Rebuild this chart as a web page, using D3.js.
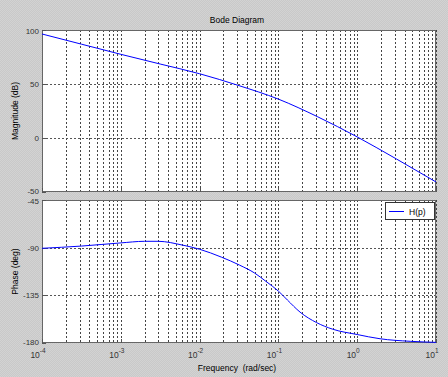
<!DOCTYPE html>
<html>
<head>
<meta charset="utf-8">
<script src="https://cdn.jsdelivr.net/npm/d3@7"></script>
<style>
  body { margin: 0; background: #cccccc; }
  svg { display: block; }
  text { font-family: "Liberation Sans", Arial, sans-serif; }
</style>
</head>
<body>
<div id="chart"></div>
<script>
// Magnitude data (every half decade)
var magFreq = [1e-4, 3.16e-4, 1e-3, 3.16e-3, 1e-2, 3.16e-2, 1e-1, 3.16e-1, 1, 3.16, 10];
var magDb = [96.3, 86.9, 77.5, 68.5, 59.5, 48.5, 36, 19.6, 1, -19.5, -40.7];

// Phase data
var phFreq = [1e-4, 3.16e-4, 1e-3, 2e-3, 3e-3, 6e-3, 1e-2, 1.9e-2, 3.2e-2, 5e-2, 7e-2, 1e-1, 1.3e-1, 1.88e-1, 3.06e-1, 4.9e-1, 1, 1.95, 4.7, 10];
var phDeg = [-90.6, -88.5, -85.5, -84, -84, -87.5, -91.5, -99, -106.4, -114, -122, -131, -139.4, -150.8, -160.8, -167, -172, -176, -178.4, -179.4];

// Tick values
var decades = [-4, -3, -2, -1, 0, 1];
var magTicks = [-50, 0, 50, 100];
var phTicks = [-180, -135, -90, -45];

var W = 448, H = 377;
var left = 42, right = 436;

var svg = d3.select("#chart").append("svg")
    .attr("width", W)
    .attr("height", H);

// dithered grey background
var defs = svg.append("defs");
var pat = defs.append("pattern")
    .attr("id", "dither")
    .attr("width", 2).attr("height", 2)
    .attr("patternUnits", "userSpaceOnUse");
pat.append("rect").attr("width", 2).attr("height", 2).attr("fill", "#c9c9c9");
pat.append("rect").attr("width", 1).attr("height", 1).attr("fill", "#d3d3d3");
pat.append("rect").attr("x", 1).attr("y", 1).attr("width", 1).attr("height", 1).attr("fill", "#d3d3d3");
svg.append("rect").attr("width", W).attr("height", H).attr("fill", "url(#dither)");

var x = d3.scaleLog().domain([1e-4, 10]).range([left, right]);

// minor grid values
var gridX = [];
decades.forEach(function (e) {
    for (var k = 1; k < 10; k++) {
        var v = k * Math.pow(10, e);
        if (v <= 10) gridX.push(v);
    }
});

function panel(top, bottom, domain, ticks, yLabel) {
    var y = d3.scaleLinear().domain(domain).range([bottom, top]);
    var g = svg.append("g");

    g.append("rect")
        .attr("x", left).attr("y", top)
        .attr("width", right - left).attr("height", bottom - top)
        .attr("fill", "white");

    // vertical grid
    g.selectAll(".vg").data(gridX).enter().append("line")
        .attr("x1", d => Math.round(x(d)) + 0.5)
        .attr("x2", d => Math.round(x(d)) + 0.5)
        .attr("y1", top).attr("y2", bottom)
        .attr("stroke", "#444")
        .attr("stroke-width", 1)
        .attr("stroke-dasharray", "2,2");

    // horizontal grid
    g.selectAll(".hg").data(ticks.slice(1, -1)).enter().append("line")
        .attr("x1", left).attr("x2", right)
        .attr("y1", d => Math.round(y(d)) + 0.5)
        .attr("y2", d => Math.round(y(d)) + 0.5)
        .attr("stroke", "#555")
        .attr("stroke-dasharray", "2,2");

    // frame
    g.append("rect")
        .attr("x", left + 0.5).attr("y", top + 0.5)
        .attr("width", right - left - 1).attr("height", bottom - top - 1)
        .attr("fill", "none")
        .attr("stroke", "#666");

    // tick marks
    g.selectAll(".yt").data(ticks).enter().append("line")
        .attr("x1", left).attr("x2", left + 4)
        .attr("y1", d => Math.round(y(d)) + 0.5)
        .attr("y2", d => Math.round(y(d)) + 0.5)
        .attr("stroke", "#555");
    g.selectAll(".xt").data(decades).enter().append("line")
        .attr("x1", d => Math.round(x(Math.pow(10, d))) + 0.5)
        .attr("x2", d => Math.round(x(Math.pow(10, d))) + 0.5)
        .attr("y1", bottom).attr("y2", bottom - 4)
        .attr("stroke", "#555");

    // y tick labels (outer ones nudged away from the gap between panels)
    g.selectAll(".yl").data(ticks).enter().append("text")
        .attr("x", left - 3)
        .attr("y", (d, i) => y(d) + 3 + (i === 0 ? -1 : 0) + (i === ticks.length - 1 ? 1 : 0))
        .attr("text-anchor", "end")
        .attr("font-size", "8px")
        .attr("fill", "#333")
        .text(d => d);

    // y axis label
    g.append("text")
        .attr("transform", "translate(" + 18 + "," + ((top + bottom) / 2) + ") rotate(-90)")
        .attr("text-anchor", "middle")
        .attr("font-size", "8.5px")
        .attr("fill", "#000")
        .text(yLabel);

    return y;
}

var yMag = panel(30, 192, [-50, 100], magTicks, "Magnitude (dB)");
var yPh = panel(200, 343, [-180, -45], phTicks, "Phase (deg)");

var magData = magFreq.map((f, i) => [f, magDb[i]]);
var phData = phFreq.map((f, i) => [f, phDeg[i]]);

svg.append("path")
    .datum(magData)
    .attr("fill", "none")
    .attr("stroke", "#0000ff")
    .attr("stroke-width", 1)
    .attr("d", d3.line().x(d => x(d[0])).y(d => yMag(d[1])).curve(d3.curveMonotoneX));

svg.append("path")
    .datum(phData)
    .attr("fill", "none")
    .attr("stroke", "#0000ff")
    .attr("stroke-width", 1)
    .attr("d", d3.line().x(d => x(d[0])).y(d => yPh(d[1])).curve(d3.curveMonotoneX));

// x tick labels (10 with superscript exponent)
var xl = svg.selectAll(".xl").data(decades).enter().append("text")
    .attr("x", d => x(Math.pow(10, d)) - 4)
    .attr("y", 358)
    .attr("text-anchor", "middle")
    .attr("font-size", "8.5px")
    .attr("fill", "#333");
xl.append("tspan").text("10");
xl.append("tspan")
    .attr("dy", -5)
    .attr("font-size", "6.5px")
    .text(d => d);

// title and x label
svg.append("text")
    .attr("x", 237).attr("y", 23)
    .attr("text-anchor", "middle")
    .attr("font-size", "8.5px")
    .text("Bode Diagram");

svg.append("text")
    .attr("x", 237).attr("y", 371)
    .attr("text-anchor", "middle")
    .attr("font-size", "8.5px")
    .attr("xml:space", "preserve")
    .text("Frequency  (rad/sec)");

// legend
var lg = svg.append("g");
lg.append("rect")
    .attr("x", 385.5).attr("y", 202.5)
    .attr("width", 49).attr("height", 17)
    .attr("fill", "white")
    .attr("stroke", "#333");
lg.append("line")
    .attr("x1", 389).attr("x2", 404)
    .attr("y1", 211.5).attr("y2", 211.5)
    .attr("stroke", "#0000ff");
lg.append("text")
    .attr("x", 409).attr("y", 214.5)
    .attr("font-size", "8.5px")
    .text("H(p)");
</script>
</body>
</html>
